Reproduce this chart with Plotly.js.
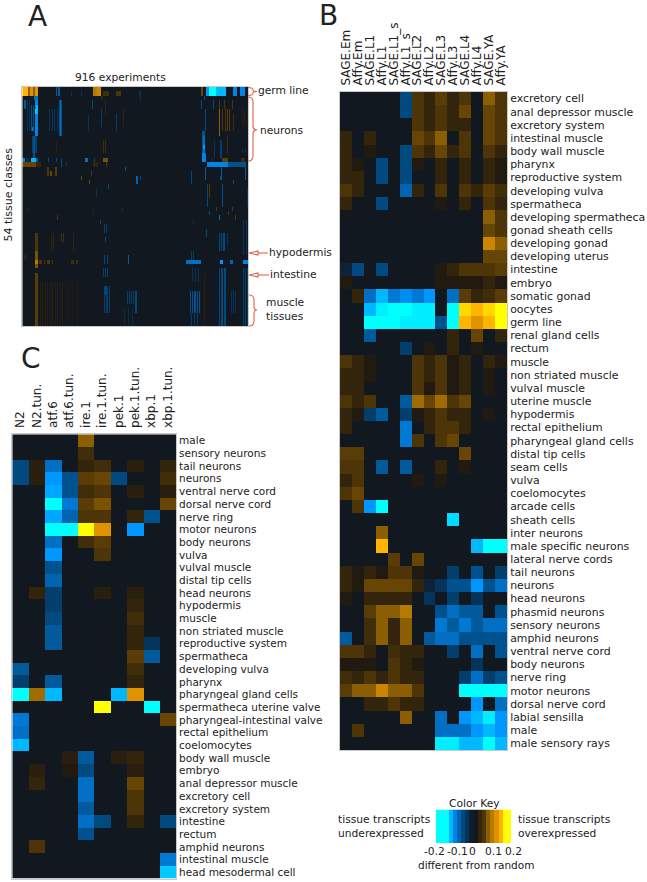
<!DOCTYPE html>
<html><head><meta charset="utf-8">
<script src="https://cdn.plot.ly/plotly-3.0.1.min.js"></script>
<style>html,body{margin:0;padding:0;background:#fff}</style></head>
<body><div id="chart" style="width:647px;height:882px"></div>
<script>
// values are stored in steps of 0.02 ("different from random")
const STEP = 0.02;
const colsB = ["SAGE.Em","Affy.Em","SAGE.L1","Affy.L1","SAGE.L1_s","Affy.L1_s","SAGE.L2","Affy.L2","SAGE.L3","Affy.L3","SAGE.L4","Affy.L4","SAGE.YA","Affy.YA"];
const tissuesB = ["excretory cell","anal depressor muscle","excretory system","intestinal muscle","body wall muscle","pharynx","reproductive system","developing vulva","spermatheca","developing spermatheca","gonad sheath cells","developing gonad","developing uterus","intestine","embryo","somatic gonad","oocytes","germ line","renal gland cells","rectum","muscle","non striated muscle","vulval muscle","uterine muscle","hypodermis","rectal epithelium","pharyngeal gland cells","distal tip cells","seam cells","vulva","coelomocytes","arcade cells","sheath cells","inter neurons","male specific neurons","lateral nerve cords","tail neurons","neurons","head neurons","phasmid neurons","sensory neurons","amphid neurons","ventral nerve cord","body neurons","nerve ring","motor neurons","dorsal nerve cord","labial sensilla","male","male sensory rays"];
const valuesB = [
[0,0,0,0,0,-3,3,2,3.5,2,3,0,5,3],
[0,0,0,0,0,-3,3,2,3,2,4,0,4,3],
[0,0,0,0,0,0,3,2,3,2,2,0,4,3],
[2,0,2,0,0,0,4,3,5,0,3,0,4,3],
[2,0,1,0,0,-3,3,2,4,2,3,0,3,2],
[2,1,0,-3,0,-3,1,0,2,0,2,0,2,1],
[2,2,0,-3,0,-3,0,0,2,0,2,0,2,1],
[3,2,0,0,0,-4.5,2,0,3,0,3,2,3.5,2.5],
[2,0,0,-3,0,0,0,0,1,0,2,0,3,2],
[0,0,0,0,0,0,0,0,0,0,0,0,5,3],
[0,0,0,0,0,0,0,0,0,0,0,0,4,3],
[0,0,0,0,0,0,0,0,0,0,0,0,6.5,5],
[0,0,0,0,0,0,0,0,0,0,0,0,4,4],
[-1,-3,0,-3,0,0,0,0,1,2,3,3,3,3.5],
[1,0,0,0,0,0,0,0,1,1,1,1,2,1],
[0,2,-5,-8,-5.5,-6.5,-5.5,-7,0,-5,3.5,2,2.5,3.5],
[0,0,-8,-9.5,-10,-10,-9.5,-9.5,0,-10,9,8,9,10],
[0,0,-10,-10,-10,-9.5,-9.5,-9.5,-3.5,-10,8,7,8,10],
[0,0,-4,0,0,0,0,0,0,2,0,4,0,2],
[0,0,0,0,0,-2.5,0,1,0,2,0,1,0,0],
[3,2,1,0,0,0,3,2,3,1,2,0,2,1],
[2,2,1,0,0,0,3,2,3,1,2,0,1,0],
[2,2,0,0,0,0,3,1,3,1,2,0,1,0],
[3,2,3,0,0,-4,5.5,4,5.5,3,4,0,0,0],
[2,1,-2.5,-4,0,-2.5,1,2,3,2,2,0,1,0],
[2,0,0,0,0,-5.5,0,2,3,3,2,0,0,0],
[0,0,0,0,0,-5.5,3,0,3,4,0,0,0,0],
[3.5,3.5,0,0,0,0,0,0,0,0,4,0,0,0],
[3,3,0,-4,0,-4,0,0,2,0,1,0,0,0],
[2,3,0,0,0,0,1,0,1,0,0,0,0,0],
[3,4,0,0,0,0,0,0,0,0,0,0,0,0],
[0,3,-7,-10,0,0,0,0,0,0,0,0,0,0],
[0,0,0,0,0,0,0,0,0,-9,0,0,0,0],
[0,0,0,5,0,0,0,0,0,0,0,0,0,0],
[0,0,0,8,0,0,0,0,0,0,0,-8,-10,-10],
[0,0,0,0,3.5,0,4,0,0,0,0,0,0,0],
[2,1,2,1,3,3,1,0,0,-2.5,0,-3.5,0,-2.5],
[2,1,4,4,4,4,2,-1,-2,-3.5,-3.5,-7,-3.5,-5],
[1,0,2,2,2,2,0,-2,0,-2.5,0,-2,0,0],
[0,0,3.5,5,5,6,0,0,-3.5,-5,-4,-4,0,-3.5],
[0,0,2.5,5,2,5,0,0,-5.5,-4,-5.5,-4,-5,-5],
[-4,0,2.5,5,2,5,0,-4,-5,-5,-3.5,-3.5,-3.5,-3.5],
[3,3,2,0,2.5,2,2,0,0,-2.5,0,-5,0,-3.5],
[1,1,1,0,3,2,1,0,0,0,0,-2,0,0],
[2.5,2,3,2,3,2,2,0,0,0,-2.5,-5,-2.5,-3.5],
[3.5,5,5,6.5,5,5,3,0,0,0,-10,-10,-10,-10],
[0,0,2,2,3,2,2,0,0,0,0,-7,0,-5],
[0,0,0,0,0,5,0,0,-5,0,-7,-8,-9.5,-7],
[0,3,0,0,0,0,0,0,-5,-5,-5,-7,-8,-7],
[0,0,0,0,0,0,0,0,-9.5,-9.5,-8,-8,-10,-8]
];
const colsC = ["N2","N2.tun.","atf.6","atf.6.tun.","ire.1","ire.1.tun.","pek.1","pek.1.tun.","xbp.1","xbp.1.tun."];
const tissuesC = ["male","sensory neurons","tail neurons","neurons","ventral nerve cord","dorsal nerve cord","nerve ring","motor neurons","body neurons","vulva","vulval muscle","distal tip cells","head neurons","hypodermis","muscle","non striated muscle","reproductive system","spermatheca","developing vulva","pharynx","pharyngeal gland cells","spermatheca uterine valve","pharyngeal-intestinal valve","rectal epithelium","coelomocytes","body wall muscle","embryo","anal depressor muscle","excretory cell","excretory system","intestine","rectum","amphid neurons","intestinal muscle","head mesodermal cell"];
const valuesC = [
[0,0,0,0,5,0,0,0,0,0],
[0,0,0,0,2.5,0,0,0,0,0],
[-3,1.5,-5,0,2,2.5,0,1.5,0,2],
[-3,1.5,-7,-3.5,3.5,4,-3,0,0,2.5],
[0,0,-7.5,-3.5,2.5,3,0,1.5,0,1.5],
[0,0,-10,-5.5,3.5,4.5,0,0,0,4],
[0,0,-7.5,-4.5,3,3,0,2,-3.5,0],
[0,0,-10,-10,10,7,0,-7,0,0],
[0,0,-5,0,2.5,3.5,0,0,0,0],
[0,0,-7,0,0,3,0,0,0,0],
[0,0,-3.5,0,0,0,0,0,0,0],
[0,0,-4.5,0,0,0,0,0,0,0],
[0,2,-2.5,0,0,1.5,0,1.5,0,0],
[0,0,-2.5,0,0,0,0,2,0,0],
[0,0,-3,0,0,0,0,2.5,0,0],
[0,0,-4,0,0,0,0,2,0,0],
[0,0,-4,0,0,0,0,2,-2,0],
[0,0,0,0,0,0,0,3.5,-4,0],
[-4,0,0,0,0,0,0,2.5,0,0],
[-2.5,0,-4,0,0,0,0,2,0,0],
[-10,5.5,-8,0,0,0,-8,7,0,0],
[0,0,0,0,0,10,0,0,-10,0],
[-5.5,0,0,0,0,0,0,0,0,4],
[-5,0,0,0,0,0,0,0,0,0],
[-8,0,0,0,0,0,0,0,0,0],
[0,0,0,1.5,-4,0,1.5,2,0,0],
[0,1.5,0,1,-3,0,0,1.5,0,0],
[0,2,0,0,-5,0,0,4,0,0],
[0,0,0,0,-5,0,0,3,0,0],
[0,0,0,0,-4,0,0,3,0,0],
[0,0,0,0,-5,-3,0,2,0,-3],
[0,0,0,0,-3.5,0,0,0,0,0],
[0,3,0,0,0,0,0,0,0,0],
[0,0,0,0,0,0,0,0,0,-5.5],
[0,0,0,0,0,0,0,0,0,-8.5]
];
// Panel A: 54 tissue classes over binned experiments, as seen in the picture.
const rowsA = 54, binsA = 226;
// blocks: [first row, end row, first bin, end bin, level]
const blocksA = [
[0,2,0,6,8],[0,2,6,8,5],[0,2,8,11,7],[0,2,11,13,5],[0,2,13,16,7],[0,2,71,75,6],[0,2,75,79,6.5],[1,2,81,87,2.5],[1,2,94,99,3],
[2,3,12,16,-5],[3,11,13,16,-6],[5,6,13,16,-9],[4,6,14,16,-8],[9,10,9,11,-6],
[11,15,10,15,-2.5],[11,16,11,13,-3.5],
[16,17,0,3,-6],[16,17,9,14,-8],[16,17,14,16,-4],[16,17,63,66,-5],[16,17,81,86,4.5],
[17,18,0,14,4],[17,18,14,19,2],[17,18,71,76,2],
[18,20,25,27,3],[19,20,28,30,4],[18,20,33,35,3.5],
[0,2,184,187,-7],[0,2,187,194,-10],[0,2,194,204,-8],[0,2,211,215,-6],[0,2,218,223,-6],[0,2,179,181,4],
[10,17,180,183,-3.5],[11,16,181,183,-5],[13,14,181,183,-7],[15,17,180,184,-6],
[16,17,200,206,3.5],[16,17,219,223,2.5],
[17,18,185,206,-6],[17,18,206,224,-3.5],
[33,37,13,16,3],[37,41,13,16,4.5],[39,40,13,16,6],[42,54,13,16,3.5],
[39,40,164,179,-5],[39,40,198,201,-7],[39,40,208,211,-4.5],[39,40,221,226,-6],
[45,47,83,85,-3.5],[46,50,199,201,-4.5]
];
// stripes: [first row, end row, level, bins]
const stripesA = [
[0,2,-4,[34,36,37]],[1,2,-2,[49,59,117]],[2,3,2,[79,80]],
[3,5,-4,[2,3]],[3,10,-2,[5,7]],[4,10,-3.5,[9,11]],[3,11,-5,[38]],[3,11,-3.5,[37,39]],[5,10,-2,[27,30,32,35]],
[3,6,2,[83]],[6,10,-2.5,[94]],[5,9,-2.5,[79]],[5,9,2,[101]],[3,5,-3,[70]],[6,10,-2,[66]],
[12,15,2.5,[81,83]],[12,15,1.5,[34]],
[16,17,-3,[5,26,34,39,72]],[17,18,-3,[39]],[17,18,-2,[44]],[17,18,3,[84]],
[20,21,4,[59]],[19,20,3,[69]],[18,19,-4,[103]],[21,22,4,[67]],[22,23,-3,[86]],[23,25,-2,[74]],
[2,3,-3,[182]],[3,5,-3.5,[179]],[3,5,-3,[191]],[3,5,3,[197,202,210]],
[5,10,-3,[183]],[5,11,5,[197]],[5,10,3,[200,203]],[5,10,3.5,[205,207]],[6,10,2.5,[211]],[5,9,1.5,[220,222,225]],
[12,16,-2.5,[198,199]],[12,16,-2,[192]],[11,15,2.5,[205]],[14,15,-2,[220,223]],[16,17,2,[190]],
[18,21,-4,[183,199,223]],[20,21,-3,[198]],[21,22,-3,[211]],[20,22,-4.5,[114,115]],[20,21,-3,[118]],[19,22,-3,[169]],
[22,27,-3.5,[200]],[22,27,-3,[185]],[22,25,3,[187]],[23,27,-2,[225]],[1,3,-2,[118]],
[39,40,3,[17,18,19,22,25,26,27,30]],[39,40,2.5,[49,50,51,54,55]],[44,54,1.5,[18,20,23,25,28,30,33,35,38,40]],[44,54,1,[44,47,50,55,60]],
[33,37,2,[29,31,51]],[33,35,2.5,[39,41]],[38,39,2,[2,4]],
[31,33,-2.5,[82,84]],[38,40,-3,[82,85]],[41,43,-2.5,[81,83,85]],[45,51,-2.5,[82,84,85,87]],
[38,40,-4,[106]],[46,49,-2.5,[105,107,109,111]],[50,54,-1.5,[102,106,110]],[30,31,-3,[78]],[34,35,-3,[83]],
[29,30,3,[35]],[28,29,2,[71]],[27,28,-2,[6]],[27,28,2,[100]],
[37,39,-2.5,[169,171]],[33,37,-3,[197,199,201,202]],[30,38,-2,[221,224]],[32,34,-3,[184]],[33,36,-2,[205]],
[41,44,-2,[170,173,176]],[46,51,-3.5,[168,170,172,173,175,177]],[51,54,-2.5,[169,172,175]],
[41,54,-3,[197,199,200,202,203]],[46,51,-2,[209,211,213]],[41,54,-2.5,[221,223,225]],[46,51,-3,[113,114]],[42,54,1.5,[182]],
[29,30,-5,[197]],[28,29,-3,[187]],[27,28,3,[194]],[28,29,3,[206]],[29,30,3,[213]],[27,28,-3,[210]],[30,31,2,[171]]
];
const keyLevels = [-10,-10,-10,-8,-6,-4.5,-3,-2,-0.5,0,2,3,5,6,7,8,10,10];
const keyTicks = ["-0.2","-0.1","0","0.1","0.2"];

const colorStops = ["#00ffff","#00dcff","#00b8ff","#0096ff","#0083e6","#006fc4","#005a9c","#004a80","#05345a","#0e2338","#12181f","#211a10","#33240c","#4d3508","#664505","#8c5e03","#b57a00","#e09200","#ffb400","#ffd800","#ffff00"];
const colorscale = colorStops.map((c,i)=>[i/(colorStops.length-1),c]);

const W=647,H=882;
const px=x=>x/W, py=y=>1-y/H;
const scaled=m=>m.map(r=>r.map(v=>v*STEP));
const gridA=[...Array(rowsA)].map(()=>Array(binsA).fill(0));
blocksA.forEach(([r0,r1,c0,c1,v])=>{for(let r=r0;r<r1;r++)for(let c=c0;c<c1;c++)gridA[r][c]=v;});
stripesA.forEach(([r0,r1,v,bins])=>{for(let r=r0;r<r1;r++)bins.forEach(c=>{gridA[r][c]=v;});});

const base={type:'heatmap',colorscale,zmin:-0.2,zmax:0.2,showscale:false,hoverinfo:'skip'};
const data=[
 {...base,z:scaled(gridA),xaxis:'x',yaxis:'y'},
 {...base,z:scaled(valuesB),x:colsB,y:tissuesB,xaxis:'x2',yaxis:'y2'},
 {...base,z:scaled(valuesC),x:colsC,y:tissuesC,xaxis:'x3',yaxis:'y3'},
 {...base,z:[keyLevels.map(v=>v*STEP)],xaxis:'x4',yaxis:'y4'}
];
const TXT='#222222',FONT='DejaVu Sans, sans-serif';
const dom=(l,r,t,b)=>({x:[px(l),px(r)],y:[py(b),py(t)]});
const dA=dom(22.3,248.3,87,326),dB=dom(340,507,92,750),dC=dom(12.3,176,434.3,878.7),dK=dom(436,511,809.5,843);
const edge={showline:true,linecolor:'#c8c8c8',linewidth:1,mirror:true,showgrid:false,zeroline:false,ticks:''};
const tickX={tickfont:{family:FONT,size:12,color:TXT},automargin:false,ticklabelstandoff:3};
const layout={
 width:W,height:H,margin:{l:0,r:0,t:0,b:0},paper_bgcolor:'#fff',plot_bgcolor:'#fff',showlegend:false,
 xaxis:{...edge,domain:dA.x,anchor:'y',showticklabels:false},
 yaxis:{...edge,domain:dA.y,anchor:'x',showticklabels:false,autorange:'reversed'},
 xaxis2:{...edge,...tickX,domain:dB.x,anchor:'y2',side:'top',tickangle:-90,tickmode:'array',tickvals:colsB,ticktext:colsB},
 yaxis2:{...edge,tickfont:{family:FONT,size:10.9,color:TXT},automargin:false,domain:dB.y,anchor:'x2',side:'right',autorange:'reversed',tickmode:'array',tickvals:tissuesB,ticktext:tissuesB,ticklabelstandoff:0},
 xaxis3:{...edge,...tickX,domain:dC.x,anchor:'y3',side:'top',tickangle:-90,tickmode:'array',tickvals:colsC,ticktext:colsC},
 yaxis3:{...edge,tickfont:{family:FONT,size:10.5,color:TXT},automargin:false,domain:dC.y,anchor:'x3',side:'right',autorange:'reversed',tickmode:'array',tickvals:tissuesC,ticktext:tissuesC,ticklabelstandoff:0},
 xaxis4:{...edge,domain:dK.x,anchor:'y4',showticklabels:false,showline:false},
 yaxis4:{...edge,domain:dK.y,anchor:'x4',showticklabels:false,showline:false},
 annotations:[],shapes:[]
};
const note=(text,x,y,o={})=>layout.annotations.push({text,xref:'paper',yref:'paper',x:px(x),y:py(y),showarrow:false,xanchor:o.a||'left',yanchor:'middle',textangle:o.rot||0,
  font:{family:FONT,size:o.size||10.7,color:TXT},borderpad:0,borderwidth:0});
note('A',37,17,{a:'center',size:28});
note('B',328,15,{a:'center',size:28});
note('C',31,358,{a:'center',size:28});
note('916 experiments',120,77,{a:'center'});
note('54 tissue classes',7.5,195,{a:'center',rot:-90,size:11});
note('germ line',258,90);note('neurons',260,130);note('hypodermis',268.5,252.5);note('intestine',269.5,274);
note('muscle',266,302);note('tissues',266,316.5);
note('Color Key',474,803,{a:'center'});
note('tissue transcripts',338,819.5);note('underexpressed',338,833.5);
note('tissue transcripts',518,819.5);note('overexpressed',518,833.5);
[434,457,472,493,513].forEach((x,i)=>note(keyTicks[i],x,851,{a:'center'}));
note('different from random',476,865,{a:'center',size:10.5});

const RED='#e0644a';
const path=(segs,fill)=>layout.shapes.push({type:'path',xref:'paper',yref:'paper',
  path:segs.map(s=>s[0]+s.slice(1).map((v,i)=>(i%2?py(v):px(v)).toFixed(5)).join(' ')).join(' ')+(fill?' Z':''),
  line:{color:RED,width:1.1},fillcolor:fill?'#ffffff':'rgba(0,0,0,0)'});
const brace=(x0,xm,xt,y0,ym,y1)=>path([['M',x0,y0],['Q',xm,y0,xm,y0+5],['L',xm,ym-4],['Q',xm,ym,xt,ym],['Q',xm,ym,xm,ym+4],['L',xm,y1-5],['Q',xm,y1,x0,y1]]);
path([['M',248,87.5],['Q',253,87.5,253,90],['Q',253,91.5,257,91.5],['Q',253,91.5,253,93],['Q',253,95.5,248,95.5]]);
brace(248,253,257,97,130,161);
brace(249,254,257,295,310,326);
[[253,268],[275,269]].forEach(([y,xe])=>{
  path([['M',258,y],['L',xe,y]]);
  path([['M',249,y],['L',258,y-2],['L',258,y+2]],true);
});
Plotly.newPlot('chart',data,layout,{displayModeBar:false,staticPlot:true});
</script></body></html>
